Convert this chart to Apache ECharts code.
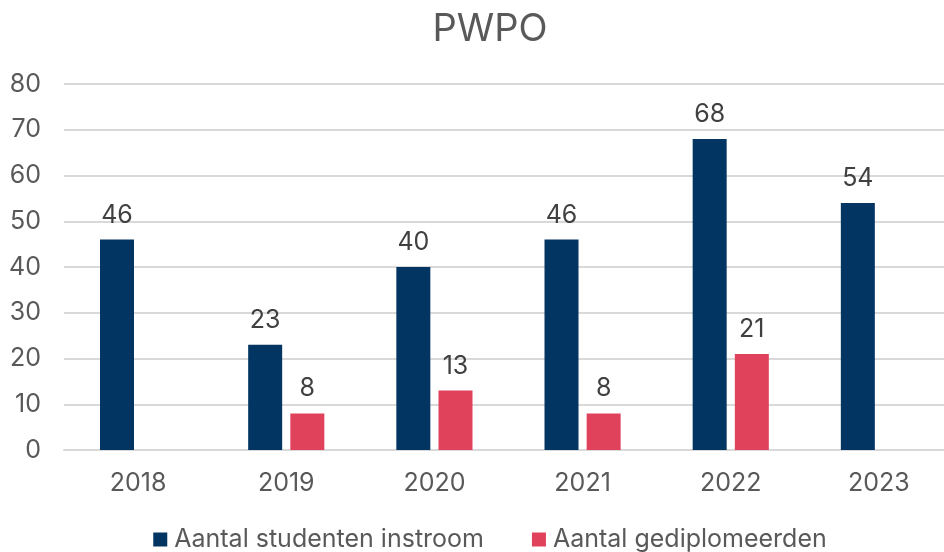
<!DOCTYPE html>
<html>
<head>
<meta charset="utf-8">
<script src="https://cdn.jsdelivr.net/npm/echarts@6/dist/echarts.min.js"></script>
<style>
html, body { margin: 0; padding: 0; background: #fff; overflow: hidden; }
#chart { width: 980px; height: 552px; }
</style>
</head>
<body>
<div id="chart"></div>
<script>
var years = ['2018', '2019', '2020', '2021', '2022', '2023'];
var instroom = [46, 23, 40, 46, 68, 54];
var gediplomeerd = [null, 8, 13, 8, 21, null];
var yTicks = { min: 0, max: 80, step: 10 };

var font = 'Inter, "Noto Sans", sans-serif';
// the plot runs a bit past the right edge of the window, so the div is wider than 944
var myChart = echarts.init(document.getElementById('chart'));

var labelStyle = {
	show: true,
	position: 'top',
	distance: 12,
	color: '#404040',
	fontSize: 25,
	fontFamily: font
};

myChart.setOption({
	animation: false,
	title: {
		text: 'PWPO',
		left: 'center',
		top: 6,
		textStyle: { color: '#595959', fontSize: 38, fontWeight: 'normal', fontFamily: font }
	},
	grid: { left: 64, right: 27, top: 84, bottom: 102 },
	legend: {
		top: 522,
		left: 'center',
		itemWidth: 14,
		itemHeight: 14,
		itemGap: 48,
		icon: 'rect',
		textStyle: { color: '#595959', fontSize: 25, fontFamily: font, padding: [0, 0, 0, 2] },
		data: ['Aantal studenten instroom', 'Aantal gediplomeerden']
	},
	xAxis: {
		type: 'category',
		data: years,
		axisTick: { show: false },
		axisLine: { lineStyle: { color: '#d9d9d9', width: 2 } },
		axisLabel: { color: '#595959', fontSize: 25, fontFamily: font, margin: 21 }
	},
	yAxis: {
		type: 'value',
		min: yTicks.min,
		max: yTicks.max,
		interval: yTicks.step,
		axisLabel: { color: '#595959', fontSize: 25, fontFamily: font, margin: 23 },
		splitLine: { lineStyle: { color: '#d9d9d9', width: 2 } }
	},
	series: [
		{
			name: 'Aantal studenten instroom',
			type: 'bar',
			data: instroom,
			barWidth: 34,
			barGap: '24%',
			itemStyle: { color: '#023562' },
			label: labelStyle
		},
		{
			name: 'Aantal gediplomeerden',
			type: 'bar',
			data: gediplomeerd,
			barWidth: 34,
			itemStyle: { color: '#e0425b' },
			label: labelStyle
		}
	]
});
</script>
</body>
</html>
